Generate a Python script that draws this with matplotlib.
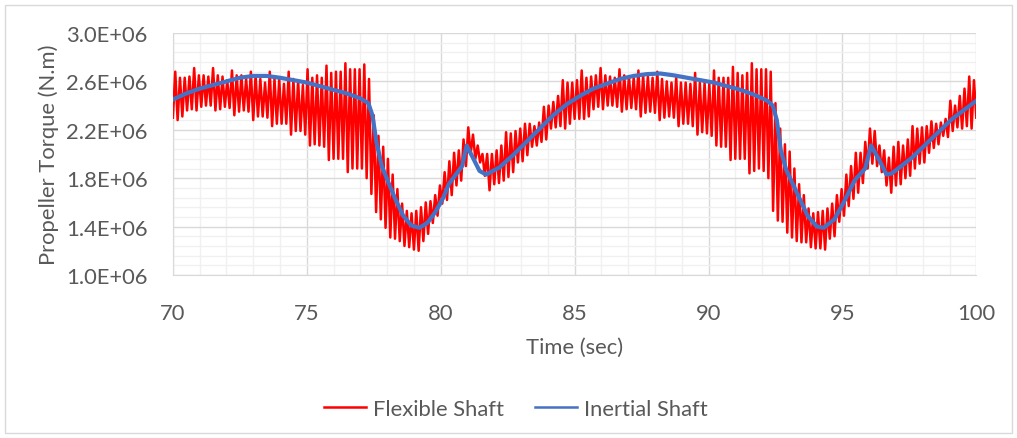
import matplotlib.pyplot as plt
from matplotlib.lines import Line2D
from matplotlib.patches import Rectangle
from matplotlib.ticker import FuncFormatter
import numpy as np

plt.rcParams['font.family'] = ['Lato', 'DejaVu Sans']

# Flexible shaft torque (1E+06 N.m): local maxima / minima of each oscillation cycle
flex_peaks = [
    2.68, 2.63, 2.63, 2.64, 2.71, 2.65, 2.65, 2.64, 2.71, 2.65,
    2.64, 2.61, 2.69, 2.65, 2.65, 2.62, 2.68, 2.65, 2.62, 2.59,
    2.68, 2.62, 2.62, 2.58, 2.68, 2.62, 2.61, 2.57,
    2.70, 2.63, 2.65, 2.63, 2.73, 2.67, 2.68, 2.68, 2.75, 2.70, 2.70, 2.70, 2.74,
    2.62, 2.32, 2.15, 2.06, 1.96, 1.83, 1.71, 1.59, 1.53, 1.51, 1.53, 1.56, 1.60, 1.61, 1.66, 1.74,
    1.85, 1.94, 2.01, 2.03, 2.12, 2.22, 2.16, 2.07, 2.00, 2.00,
    2.00, 2.03, 2.07, 2.18, 2.17, 2.19, 2.21, 2.25, 2.25, 2.23,
    2.26, 2.39, 2.40, 2.43, 2.48, 2.61, 2.59, 2.59,
    2.61, 2.69, 2.63, 2.64, 2.65, 2.71, 2.65, 2.64, 2.63, 2.70,
    2.65, 2.64, 2.63, 2.69, 2.65, 2.64, 2.63, 2.68, 2.62, 2.60,
    2.59, 2.63, 2.59, 2.59, 2.58, 2.67, 2.59, 2.59, 2.58,
    2.69, 2.63, 2.63, 2.63, 2.72, 2.67, 2.65, 2.67, 2.75, 2.70,
    2.70, 2.70, 2.68, 2.42, 2.21, 2.08, 2.02, 1.88, 1.75, 1.66,
    1.55, 1.51, 1.52, 1.53, 1.55, 1.59, 1.66, 1.71,
    1.83, 1.90, 2.01, 2.01, 2.10, 2.21, 2.19, 2.07, 2.03, 1.97,
    2.06, 2.10, 2.07, 2.12, 2.23, 2.21, 2.22, 2.23, 2.27, 2.25,
    2.26, 2.29, 2.44, 2.40, 2.48, 2.54, 2.64, 2.61,
]
flex_troughs = [
    2.30,
    2.28, 2.31, 2.36, 2.37, 2.36, 2.39, 2.40, 2.40, 2.36, 2.37,
    2.39, 2.38, 2.32, 2.35, 2.36, 2.35, 2.28, 2.31, 2.31, 2.30,
    2.23, 2.25, 2.25, 2.25, 2.16, 2.19, 2.19, 2.16,
    2.07, 2.08, 2.07, 2.06, 1.95, 1.96, 1.96, 1.96, 1.85, 1.88, 1.88, 1.88, 1.80,
    1.67, 1.52, 1.46, 1.39, 1.31, 1.30, 1.28, 1.24, 1.23, 1.21, 1.20, 1.28, 1.34, 1.43, 1.49, 1.59,
    1.62, 1.66, 1.74, 1.78, 1.90, 2.00, 1.96, 1.93, 1.82, 1.70,
    1.75, 1.76, 1.78, 1.81, 1.85, 1.93, 1.94, 1.99, 2.06, 2.07,
    2.10, 2.12, 2.21, 2.22, 2.23, 2.21, 2.25, 2.29,
    2.29, 2.29, 2.31, 2.37, 2.39, 2.37, 2.40, 2.40, 2.39, 2.35,
    2.37, 2.38, 2.37, 2.31, 2.34, 2.35, 2.34, 2.28, 2.30, 2.31,
    2.30, 2.23, 2.25, 2.25, 2.23, 2.16, 2.18, 2.17, 2.15,
    2.07, 2.06, 2.06, 1.95, 1.96, 1.96, 1.96, 1.84, 1.86, 1.88,
    1.86, 1.80, 1.53, 1.45, 1.44, 1.35, 1.31, 1.28, 1.27, 1.27,
    1.23, 1.22, 1.22, 1.21, 1.30, 1.32, 1.44, 1.49,
    1.57, 1.63, 1.68, 1.76, 1.88, 1.92, 1.90, 1.85, 1.74, 1.68,
    1.74, 1.75, 1.80, 1.82, 1.88, 1.92, 1.93, 2.01, 2.05, 2.08,
    2.15, 2.14, 2.19, 2.22, 2.21, 2.23, 2.21, 2.30,
]

# Inertial shaft torque (1E+06 N.m)
inertial_t = [
    70.0, 70.5, 71.0, 71.5, 72.0, 72.5, 73.0, 73.5, 74.0, 74.5,
    75.0, 75.5, 76.0, 76.5, 77.0, 77.3, 77.45, 77.6, 77.8, 78.0,
    78.3, 78.6, 78.9, 79.2, 79.5, 79.8, 80.1, 80.3, 80.6, 80.8,
    80.97, 81.2, 81.45, 81.7, 82.2, 82.7, 83.2, 83.7, 84.2, 84.7,
    85.2, 85.7, 86.2, 86.7, 87.2, 87.7, 88.2, 88.7, 89.2, 89.7,
    90.2, 90.7, 91.2, 91.7, 92.2, 92.4, 92.55, 92.7, 92.9, 93.3,
    93.7, 94.05, 94.3, 94.7, 95.05, 95.45, 95.85, 96.07, 96.35, 96.65,
    96.85, 97.6, 98.3, 99.1, 100.0,
]
inertial_q = [
    2.45, 2.50, 2.54, 2.57, 2.60, 2.63, 2.645, 2.645, 2.63, 2.61,
    2.59, 2.56, 2.53, 2.50, 2.46, 2.42, 2.32, 2.10, 1.90, 1.79,
    1.63, 1.49, 1.41, 1.39, 1.43, 1.52, 1.64, 1.75, 1.84, 1.90,
    2.07, 1.97, 1.86, 1.83, 1.89, 1.99, 2.10, 2.21, 2.32, 2.41,
    2.48, 2.54, 2.58, 2.62, 2.645, 2.66, 2.665, 2.65, 2.63, 2.61,
    2.59, 2.56, 2.53, 2.49, 2.44, 2.40, 2.28, 2.03, 1.87, 1.68,
    1.49, 1.40, 1.39, 1.46, 1.60, 1.78, 1.88, 2.07, 1.96, 1.83,
    1.84, 1.97, 2.12, 2.29, 2.44,
]

t_start, t_end = 70, 100
q_min, q_max = 1.0e6, 3.0e6

# interleave troughs and peaks into one signal
flex = np.empty(len(flex_troughs) + len(flex_peaks))
flex[0::2] = flex_troughs
flex[1::2] = flex_peaks
flex_t = np.linspace(t_start, t_end, len(flex))

grey_text = '#595959'
fs = 15.8
fig = plt.figure(figsize=(10.17, 4.39), dpi=100)
ax = fig.add_axes([0.170, 0.3713, 0.790, 0.5513])

ax.plot(flex_t, flex * 1e6, color='#FF0000', lw=1.8, zorder=3)
ax.plot(inertial_t, np.array(inertial_q) * 1e6, color='#4472C4', lw=3.0,
        solid_joinstyle='round', zorder=4)

ax.set_xlim(t_start, t_end)
ax.set_ylim(q_min, q_max)
ax.set_xticks(np.arange(t_start, t_end + 1, 5))
ax.set_xticks(np.arange(t_start, t_end + 1, 1), minor=True)
ax.set_yticks(np.linspace(q_min, q_max, 6))
ax.set_yticks(np.linspace(q_min, q_max, 26), minor=True)
ax.yaxis.set_major_formatter(FuncFormatter(lambda v, p: f'{v:.1E}'))
ax.grid(which='minor', color='#F0F0F0', lw=1.0, zorder=0)
ax.grid(which='major', color='#D9D9D9', lw=1.0, zorder=1)
ax.set_axisbelow(True)
for s in ['top', 'right']:
    ax.spines[s].set_visible(False)
for s in ['left', 'bottom']:
    ax.spines[s].set_color('#D9D9D9')
ax.tick_params(which='both', length=0, labelsize=fs, colors=grey_text)
ax.tick_params(axis='y', pad=18)
ax.tick_params(axis='x', pad=20)

ax.set_xlabel('Time (sec)', fontsize=fs, color=grey_text, labelpad=10)
ax.set_ylabel('Propeller Torque (N.m)', fontsize=fs, color=grey_text, labelpad=5)

handles = [Line2D([0], [0], color='#FF0000', lw=1.8),
           Line2D([0], [0], color='#4472C4', lw=1.8)]
fig.legend(handles, ['Flexible Shaft', 'Inertial Shaft'], loc='center',
           bbox_to_anchor=(0.507, 0.067), ncol=2, frameon=False,
           fontsize=fs, labelcolor=grey_text, handlelength=1.95,
           handletextpad=0.3, columnspacing=1.4)

# chart area border
fig.patches.append(Rectangle((0.005, 0.012), 0.99, 0.975, transform=fig.transFigure,
                             fill=False, edgecolor='#D9D9D9', lw=1.0))

fig.savefig('out.png', dpi=100)
